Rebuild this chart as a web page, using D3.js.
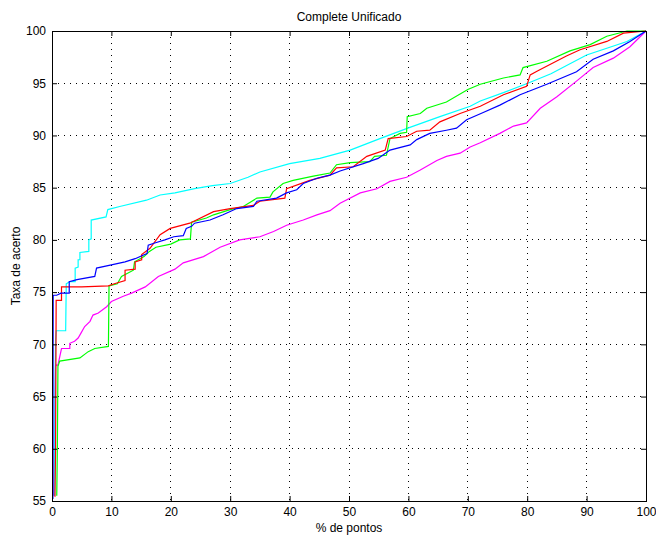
<!DOCTYPE html>
<html><head><meta charset="utf-8">
<script src="https://cdn.jsdelivr.net/npm/d3@7"></script>
<style>body{margin:0;background:#fff}svg{display:block}text{font-family:"Liberation Sans",Arial,sans-serif}</style>
</head><body><svg id="c" width="656" height="535"></svg>
<script>
const xTicks = [0,10,20,30,40,50,60,70,80,90,100];
const yTicks = [55,60,65,70,75,80,85,90,95,100];

const blue = [[0.15,55.2],[0.2,74.7],[0.8,74.7],[1.5,74.9],[2.9,74.9],[2.9,76.0],[4.2,76.2],[7.2,76.5],[7.5,77.3],[10,77.6],[12.3,77.9],[14,78.2],[16.0,78.7],[16.2,79.5],[17.3,79.7],[19,80.0],[20.5,80.3],[22.1,80.4],[22.6,81.1],[23.5,81.3],[24,81.6],[26.6,81.9],[28.8,82.4],[31.1,83.0],[33.9,83.2],[34.5,83.7],[37.8,84.0],[39.5,84.5],[41.2,84.8],[42.3,85.4],[44.6,85.9],[46.8,86.2],[48.5,86.6],[52.4,87.3],[54.9,87.8],[56.9,88.6],[60.3,89.1],[61.4,89.6],[63.6,90.2],[66.4,90.5],[68.1,90.7],[69.8,91.5],[72.6,92.2],[75.4,92.9],[78.8,93.9],[83.3,94.9],[88.3,96.1],[91.1,97.3],[94.5,98.1],[97.3,99.0],[100,100]];

const red = [[0.5,55.4],[0.6,60],[0.7,74.2],[1.6,74.2],[1.6,75.5],[5,75.5],[9.5,75.6],[10.5,75.8],[12.3,76.1],[12.3,77.1],[14,77.2],[14,77.9],[15.1,78.1],[15.1,78.6],[16.5,79.2],[18.2,80.5],[19.9,81.1],[23.2,81.6],[27.2,82.7],[30,83.0],[33.9,83.3],[35,83.7],[39.2,84.0],[39.5,84.9],[43.4,85.7],[46.8,86.2],[47.9,86.9],[50.7,87.0],[53,88.0],[56.1,88.6],[56.6,89.7],[59.7,89.9],[61.4,90.4],[63.6,90.5],[65.3,91.3],[68.7,92.1],[72.1,92.8],[76,93.9],[79.9,94.7],[80.5,95.8],[81.8,96.2],[86.6,97.6],[88.9,98.2],[93.4,99.0],[96.2,99.8],[100,100]];

const green = [[0.8,55.5],[0.9,60],[1.0,67.9],[1.3,68.4],[4.7,68.7],[6.1,69.3],[7.2,69.6],[9.5,69.8],[9.6,75.6],[11,75.8],[11.7,76.5],[13.7,77.1],[13.9,77.9],[15.5,78.4],[16.4,78.9],[17.5,79.3],[20.0,79.6],[21.5,80.0],[23.3,80.1],[23.5,81.7],[26,82.1],[27.2,82.4],[30,82.9],[32.2,83.2],[34.5,84.0],[36.7,84.1],[37.2,84.6],[38.9,85.4],[40.6,85.7],[44,86.1],[46.8,86.4],[47.9,87.2],[50.2,87.4],[53.5,87.5],[54.3,88.0],[56.3,88.1],[56.9,89.7],[58.6,90.2],[59.7,90.3],[59.8,91.8],[62,92.1],[63.1,92.6],[66.4,93.2],[70,94.4],[72.1,94.9],[76,95.5],[78.8,95.8],[79.3,96.5],[83.3,97.1],[87.2,98.1],[90.6,98.7],[93.4,99.5],[96.8,100],[100,100]];

const cyan = [[0.4,55.5],[0.5,65],[0.6,70.4],[0.7,71.3],[2.3,71.3],[2.4,75.8],[3.0,76.0],[3.9,76.0],[3.9,77.3],[4.4,77.4],[4.4,78.1],[4.7,78.1],[4.7,78.8],[6.2,78.9],[6.2,80.0],[6.6,80.1],[6.6,81.9],[9.1,82.2],[9.4,82.9],[11.4,83.2],[15.9,83.8],[18.2,84.3],[20.7,84.5],[24,84.9],[27,85.2],[30,85.4],[33,86.0],[35,86.5],[40,87.3],[45.1,87.8],[50.2,88.6],[55.2,89.7],[59.9,90.7],[65.3,91.8],[70.4,92.8],[72.1,93.3],[76,94.1],[80.1,95.0],[84,95.9],[90,97.7],[96.8,99.0],[100,100]];

const magenta = [[0.3,55.5],[0.4,62],[0.6,68.0],[1.0,68.0],[1.6,69.6],[3.0,69.6],[3.0,70.1],[3.8,70.3],[4.4,70.6],[4.9,71.1],[5.5,71.7],[6.4,72.2],[6.9,72.8],[7.8,73.0],[9.2,73.6],[10,74.1],[12,74.6],[13.4,74.9],[15.7,75.5],[17.9,76.5],[20.7,77.2],[22.1,77.8],[25.5,78.4],[28.3,79.3],[31.6,80.0],[35,80.3],[37.3,80.8],[39.5,81.4],[42.3,81.9],[44.6,82.4],[46.8,82.8],[48.5,83.5],[51.9,84.5],[54.7,84.9],[56.9,85.6],[59.7,86.0],[62,86.7],[64.8,87.6],[66.4,88.0],[68.7,88.3],[70.4,88.9],[72.1,89.3],[75.4,90.2],[77.7,90.9],[79.9,91.2],[82.2,92.6],[85,93.7],[88.3,95.2],[91.1,96.5],[94.5,97.4],[97.3,98.5],[100,100]];

const seriesList = [
  {data: magenta, color: "#ff00ff"},
  {data: cyan, color: "#00ffff"},
  {data: green, color: "#00ff00"},
  {data: red, color: "#ff0000"},
  {data: blue, color: "#0000ff"}
];

const L = 52, R = 646, T = 31, B = 501;
const svg = d3.select("#c");
const x = d3.scaleLinear().domain([0,100]).range([L,R]);
const y = d3.scaleLinear().domain([55,100]).range([B,T]);

// grid
const g = svg.append("g");
xTicks.slice(1,-1).forEach(t => g.append("line").attr("x1",x(t)).attr("x2",x(t)).attr("y1",T).attr("y2",B)
  .attr("stroke","#000").attr("stroke-width",1).attr("stroke-dasharray","1,5").attr("shape-rendering","crispEdges"));
yTicks.slice(1,-1).forEach(t => g.append("line").attr("y1",y(t)).attr("y2",y(t)).attr("x1",L).attr("x2",R)
  .attr("stroke","#000").attr("stroke-width",1).attr("stroke-dasharray","1,5").attr("shape-rendering","crispEdges"));

// lines
const line = d3.line().x(d => x(d[0])).y(d => y(d[1]));
seriesList.forEach(s => svg.append("path").attr("d", line(s.data)).attr("fill","none")
  .attr("stroke", s.color).attr("stroke-width",1.2));

// axes
const fmt = d3.format("d");
const ax = svg.append("g").attr("transform",`translate(0,${B})`)
  .call(d3.axisBottom(x).tickValues(xTicks).tickFormat(fmt).tickSizeInner(-5).tickSizeOuter(0).tickPadding(6));
const axT = svg.append("g").attr("transform",`translate(0,${T})`)
  .call(d3.axisTop(x).tickValues(xTicks).tickFormat("").tickSizeInner(-5).tickSizeOuter(0));
const ay = svg.append("g").attr("transform",`translate(${L},0)`)
  .call(d3.axisLeft(y).tickValues(yTicks).tickFormat(fmt).tickSizeInner(-5).tickSizeOuter(0).tickPadding(6));
const ayR = svg.append("g").attr("transform",`translate(${R},0)`)
  .call(d3.axisRight(y).tickValues(yTicks).tickFormat("").tickSizeInner(-5).tickSizeOuter(0));
[ax,axT,ay,ayR].forEach(a => {
  a.selectAll("text").attr("font-size",12).attr("fill","#000").attr("font-family","Liberation Sans, Arial, sans-serif");
  a.selectAll("line").attr("stroke","#000");
  a.select(".domain").attr("stroke","#000");
});
ax.selectAll("text").attr("dy","0.71em").attr("y",6);
svg.append("rect").attr("x",L).attr("y",T).attr("width",R-L).attr("height",B-T)
  .attr("fill","none").attr("stroke","#000").attr("stroke-width",1).attr("shape-rendering","crispEdges");

svg.append("text").attr("x",(L+R)/2).attr("y",21).attr("text-anchor","middle").attr("font-size",12).text("Complete Unificado");
svg.append("text").attr("x",(L+R)/2).attr("y",532).attr("text-anchor","middle").attr("font-size",12).text("% de pontos");
svg.append("text").attr("transform",`translate(20,${(T+B)/2}) rotate(-90)`).attr("text-anchor","middle").attr("font-size",12).text("Taxa de acerto");
</script></body></html>
